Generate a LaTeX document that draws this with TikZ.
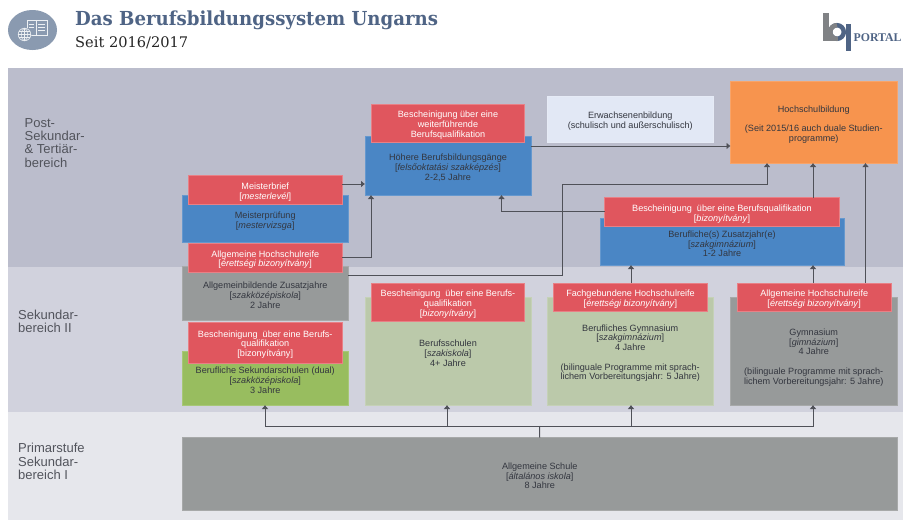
\documentclass[tikz,border=0pt]{standalone}
\usepackage{fontspec}
\setmainfont{Liberation Sans}
\newfontfamily\slab{DejaVu Serif}
\newfontfamily\slabtitle[FakeStretch=0.94]{DejaVu Serif}
\newfontfamily\logofont{Liberation Serif}
\usetikzlibrary{arrows.meta}
\definecolor{bandA}{HTML}{BBBDCC}
\definecolor{bandB}{HTML}{D1D2DD}
\definecolor{bandC}{HTML}{E6E7EC}
\definecolor{cred}{HTML}{E0565E}
\definecolor{cblue}{HTML}{4A86C5}
\definecolor{cgray}{HTML}{979A9A}
\definecolor{cgreen}{HTML}{98BD5F}
\definecolor{clgreen}{HTML}{BBC9AA}
\definecolor{corange}{HTML}{F7944E}
\definecolor{clight}{HTML}{E2E8F5}
\definecolor{ink}{HTML}{33363F}
\definecolor{connc}{HTML}{4F5158}
\definecolor{iconc}{HTML}{8A9AB0}
\definecolor{titlec}{HTML}{4F6485}
\definecolor{logog}{HTML}{808285}
\newcommand{\bx}[7]{%
  \node[#2,minimum width=#5pt-#3pt,minimum height=#6pt-#4pt] (#1) at ({(#3+#5)/2},{(#4+#6)/2}) {\rule{0pt}{10.8pt}#7};}
\newcommand{\hu}[1]{{[}\textit{#1}{]}}
\tikzset{
  x=1pt,y=-1pt,
  base/.style={inner sep=0pt,outer sep=0pt,align=center,font=\fontsize{9.1}{9.7}\selectfont,text=ink,line width=0.6pt},
  redbox/.style={base,fill=cred,draw=cred!75!white,text=white},
  bluebox/.style={base,fill=cblue,draw=cblue!85!white},
  graybox/.style={base,fill=cgray,draw=cgray!85!white},
  greenbox/.style={base,fill=cgreen,draw=cgreen!85!white},
  lgreenbox/.style={base,fill=clgreen,draw=clgreen!85!white},
  orangebox/.style={base,fill=corange,draw=corange!85!white},
  lightbox/.style={base,fill=clight,draw=clight!85!white},
  bandlabel/.style={anchor=north west,inner sep=0pt,align=left,font=\fontsize{13}{13.3}\selectfont,text=ink!85!white},
  connline/.style={draw=connc,line width=1pt},
  arr/.style={connline,-{Latex[length=4pt,width=7pt]}},
}
\begin{document}
\begin{tikzpicture}
\useasboundingbox (0,0) rectangle (903,520);
\fill[white] (0,0) rectangle (903,520);
% bands
\fill[bandA] (8,68) rectangle (903,267);
\fill[bandB] (8,267) rectangle (903,411.5);
\fill[bandC] (8,411.5) rectangle (903,520);
\node[bandlabel] (lA) at (24.5,118.2) {Post-\\Sekundar-\\\& Tertiär-\\bereich};
\node[bandlabel] (lB) at (18,309.6) {Sekundar-\\bereich II};
\node[bandlabel] (lC) at (18,443.3) {Primarstufe\\Sekundar-\\bereich I};
% header icon
\fill[iconc] (32.5,30) ellipse (24.5 and 20);
\begin{scope}[draw=white!85!iconc,line width=0.6pt]
  \draw (27,20.5) -- (36,20.5) -- (36,35.5) -- (27,35.5) -- cycle;
  \draw (36,20.5) -- (47,20.5) -- (47,35.5) -- (36,35.5);
  \draw (28.5,24) -- (34,24) (28.5,27) -- (34,27) (38,24) -- (45,24) (38,27) -- (45,27) (38,30) -- (45,30);
  \fill[iconc] (24.5,34.5) circle (7);
  \draw (24.5,34.5) circle (6.3) (18.2,34.5) -- (30.8,34.5) (24.5,28.2) -- (24.5,40.8);
  \draw (24.5,34.5) ellipse (3 and 6.3) (19,31.5) -- (30,31.5) (19,37.5) -- (30,37.5);
\end{scope}
\node[anchor=base west,inner sep=0pt,font=\slabtitle\bfseries\fontsize{19.3}{22}\selectfont,text=titlec] (title) at (75,25.3) {Das Berufsbildungssystem Ungarns};
\node[anchor=base west,inner sep=0pt,font=\slab\fontsize{14.6}{17}\selectfont,text=black!85] (sub) at (75,47) {Seit 2016/2017};
% logo
\draw[titlec,line width=4.5pt] (837,32) circle (6.8);
\draw[logog,line width=4.5pt] (837,38.8) arc[start angle=90,end angle=270,radius=6.8];
\fill[titlec] (846,24) rectangle (851,51);
\fill[logog] (823,13) rectangle (828.5,41);
\fill[logog] (823,36.5) rectangle (838,41);
\node[anchor=base west,inner sep=0pt,font=\logofont\bfseries\fontsize{11.8}{14}\selectfont,text=titlec] (portal) at (853.5,41) {PORTAL};
% boxes, lower layer
\bx{mp}{bluebox}{182.5}{195.5}{348}{242}{Meisterprüfung\\\hu{mestervizsga}}
\bx{zj}{graybox}{182.5}{266}{348}{320}{Allgemeinbildende Zusatzjahre\\\hu{szakközépiskola}\\2 Jahre}
\bx{bs}{greenbox}{182.5}{351}{348}{405}{Berufliche Sekundarschulen (dual)\\\hu{szakközépiskola}\\3 Jahre}
\bx{ho}{bluebox}{365}{136.5}{531}{195}{Höhere Berufsbildungsgänge\\\hu{felsőoktatási szakképzés}\\2-2,5 Jahre}
\bx{bf}{lgreenbox}{365}{297}{531}{405}{Berufsschulen\\\hu{szakiskola}\\4+ Jahre}
\bx{ew}{lightbox}{547.5}{96}{713}{142}{Erwachsenenbildung\\(schulisch und außerschulisch)}
\bx{hs}{orangebox}{730.5}{81.5}{897}{163}{Hochschulbildung\\[9.7pt](Seit 2015/16 auch duale Studien-\\programme)}
\bx{za}{bluebox}{600}{218.5}{844}{265}{Berufliche(s) Zusatzjahr(e)\\\hu{szakgimnázium}\\1-2 Jahre}
\bx{bg}{lgreenbox}{547.5}{297}{713}{405}{Berufliches Gymnasium\\\hu{szakgimnázium}\\4 Jahre\\[9.7pt](bilinguale Programme mit sprach-\\lichem Vorbereitungsjahr: 5 Jahre)}
\bx{gy}{graybox}{730.5}{297}{897}{405}{\rule{0pt}{19.5pt}Gymnasium\\\hu{gimnázium}\\4 Jahre\\[9.7pt](bilinguale Programme mit sprach-\\lichem Vorbereitungsjahr: 5 Jahre)}
\bx{as}{graybox}{182.5}{437.5}{897}{510}{Allgemeine Schule\\\hu{általános iskola}\\8 Jahre}
% red certificates
\bx{rmb}{redbox}{188.5}{175.5}{342}{204}{Meisterbrief\\\hu{mesterlevél}}
\bx{rah}{redbox}{188.5}{243}{342}{272}{Allgemeine Hochschulreife\\\hu{érettségi bizonyítvány}}
\bx{rbs}{redbox}{188.5}{322}{342}{363}{Bescheinigung\ \ über eine Berufs-\\qualifikation\\{[}bizonyítvány{]}}
\bx{rho}{redbox}{371.5}{104}{524.5}{142}{Bescheinigung über eine\\weiterführende\\Berufsqualifikation}
\bx{rbf}{redbox}{371.5}{283}{524.5}{321}{Bescheinigung\ \ über eine Berufs-\\qualifikation\\\hu{bizonyítvány}}
\bx{rza}{redbox}{604.5}{197.5}{839.5}{226}{Bescheinigung\ \ über eine Berufsqualifikation\\\hu{bizonyítvány}}
\bx{rbg}{redbox}{553.5}{283}{707.5}{311}{Fachgebundene Hochschulreife\\\hu{érettségi bizonyítvány}}
\bx{rgy}{redbox}{737.5}{283}{891}{311}{Allgemeine Hochschulreife\\\hu{érettségi bizonyítvány}}
% connectors
\draw[arr] (rmb.east |- 0,184) -- (ho.west |- 0,184);
\draw[arr] (rah.east |- 0,257) -- (371,257) -- (371,0 |- ho.south);
\draw[arr] (ho.east |- 0,146) -- (hs.west |- 0,146);
\draw[arr] (zj.east |- 0,275) -- (562,275) -- (562,184) -- (767,184) -- (767,0 |- hs.south);
\draw[arr] (rza.west |- 0,211) -- (501.5,211) -- (501.5,0 |- ho.south);
\draw[arr] (813,0 |- rza.north) -- (813,0 |- hs.south);
\draw[arr] (865.5,0 |- rgy.north) -- (865.5,0 |- hs.south);
\draw[arr] (631,0 |- rbg.north) -- (631,0 |- za.south);
\draw[arr] (813,0 |- rgy.north) -- (813,0 |- za.south);
\coordinate (junction) at (539.5,426);
\draw[connline] (as.north) -- (junction);
\draw[arr] (junction) -- (265,426) -- (265,0 |- bs.south);
\draw[arr] (447,426) -- (447,0 |- bf.south);
\draw[arr] (631,426) -- (631,0 |- bg.south);
\draw[arr] (junction) -- (813,426) -- (813,0 |- gy.south);
\end{tikzpicture}
\end{document}
